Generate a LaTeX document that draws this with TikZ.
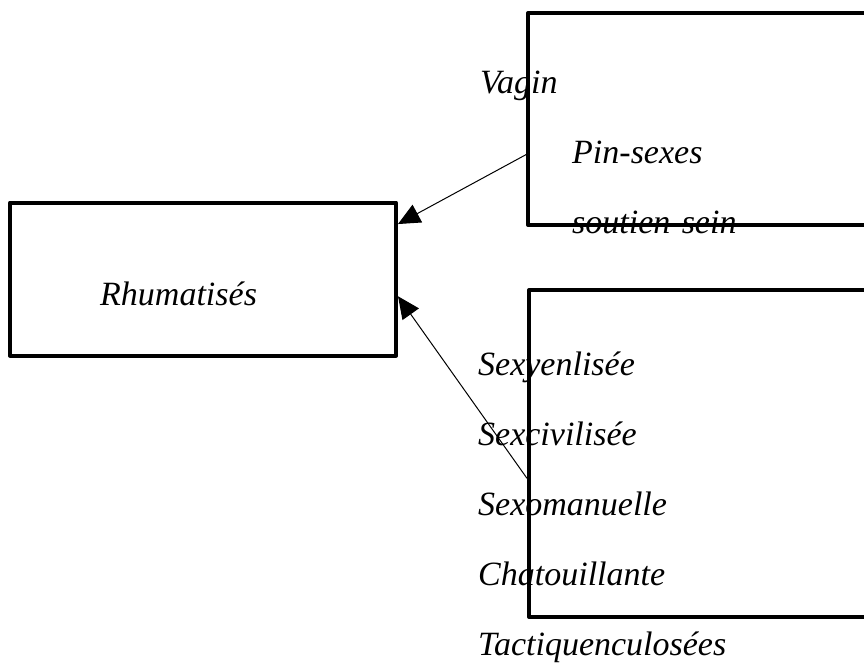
\documentclass[tikz,border=0pt]{standalone}
\usepackage{fontspec}
\setmainfont{Liberation Serif}
\usetikzlibrary{arrows.meta,calc}

\tikzset{
  frame/.style={draw=black, line width=4pt, line join=round, inner sep=0pt},
  label/.style={anchor=base west, inner sep=0pt, font=\fontsize{34}{40}\selectfont\itshape},
  link/.style={draw=black, line width=1pt, -{Triangle[length=22pt,width=20pt]}}
}

\begin{document}
\begin{tikzpicture}[x=1pt,y=-1pt]
  \useasboundingbox (0,0) rectangle (864,664);
  \clip (0,0) rectangle (864,664);

  % boxes
  \node[frame, minimum width=386pt, minimum height=153pt] (rh) at (203,279) {};
  \node[frame, minimum width=420pt, minimum height=212pt] (top) at (738,119) {};
  \node[frame, minimum width=420pt, minimum height=327pt] (bot) at (739,453.5) {};

  % connector start points on the left sides of the right-hand boxes
  \coordinate (s1) at ($(top.north west)!0.665!(top.south west)$);
  \coordinate (s2) at ($(bot.north west)!0.575!(bot.south west)$);
  \coordinate (e1) at ($(rh.north east)!0.15!(rh.south east)$);
  \coordinate (e2) at ($(rh.north east)!0.61!(rh.south east)$);

  \draw[link] (s1) -- (e1);
  \draw[link] (s2) -- (e2);

  % texts
  \node[label] (t0) at (100,305) {Rhumatisés};
  \node[label] (t1) at (480,93) {Vagin};
  \node[label] (t2) at (572,163) {Pin-sexes};
  \node[label] (t3) at (572,233) {soutien-sein};
  \node[label] (t4) at (478,375) {Sexyenlisée};
  \node[label] (t5) at (478,445) {Sexcivilisée};
  \node[label] (t6) at (478,515) {Sexomanuelle};
  \node[label] (t7) at (478,585) {Chatouillante};
  \node[label] (t8) at (478,655) {Tactiquenculosées};
\end{tikzpicture}
\end{document}
